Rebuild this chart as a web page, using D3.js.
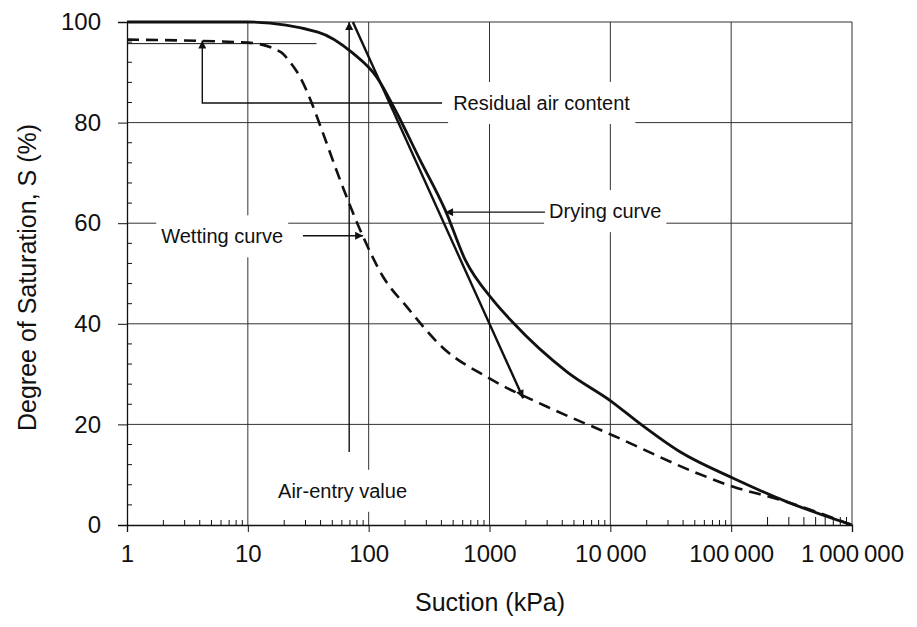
<!DOCTYPE html>
<html>
<head>
<meta charset="utf-8">
<script src="https://cdn.jsdelivr.net/npm/d3@7"></script>
<style>
  body { margin: 0; background: #fff; }
  svg text { font-family: "Liberation Sans", Arial, Helvetica, sans-serif; fill: #111; }
</style>
</head>
<body>
<svg id="chart" width="917" height="627"></svg>
<script>
// Axis ticks
const suctionTicks = [1, 10, 100, 1000, 10000, 100000, 1000000];
const suctionTickLabels = ["1", "10", "100", "1000", "10\u2009000", "100\u2009000", "1\u2009000\u2009000"];
const saturationTicks = [0, 20, 40, 60, 80, 100];

// Drying (desorption) curve: suction in kPa, degree of saturation in %
const dryingSuction    = [1, 10, 38, 74, 117, 166, 266, 430, 630, 1070, 1570, 4400, 10300, 17700, 38000, 104000, 290000, 1000000];
const dryingSaturation = [100, 100, 98, 93.8, 89, 82.5, 72.6, 62.6, 52.7, 44.7, 40.2, 30.4, 24.5, 20.1, 14.5, 9.3, 4.6, 0];

// Wetting (adsorption) curve
const wettingSuction    = [1, 10, 18.5, 22.4, 27, 33, 41, 58, 90, 132, 208, 413, 955, 3000, 10300, 52300, 104000, 255000, 1000000];
const wettingSaturation = [96.5, 95.9, 94.1, 92, 89.1, 84.5, 78.5, 68.6, 57.3, 49.3, 43.3, 35.2, 29.4, 23.5, 17.9, 10.3, 7.6, 5.0, 0];

// Construction lines
const tangentSuction = [74, 1900];
const tangentSaturation = [100, 25.2];
const airEntrySuction = 69;
const airEntrySaturation = [14.5, 100];
const residualLevel = 95.7;
const residualLevelSuction = [1, 37];

const W = 917, H = 627;
const svg = d3.select("#chart");

const x = d3.scaleLog().domain([1, 1e6]).range([127, 852]);
const y = d3.scaleLinear().domain([0, 100]).range([525, 22]);

// Arrowhead marker
const defs = svg.append("defs");
defs.append("marker")
  .attr("id", "arrow")
  .attr("viewBox", "0 0 10 10")
  .attr("refX", 10).attr("refY", 5)
  .attr("markerWidth", 11).attr("markerHeight", 8)
  .attr("markerUnits", "userSpaceOnUse")
  .attr("orient", "auto")
  .append("path").attr("d", "M0,0 L10,5 L0,10 Z").attr("fill", "#111");

// Grid
const grid = svg.append("g").attr("stroke", "#333").attr("stroke-width", 1);
grid.selectAll("line.v").data(suctionTicks.slice(1)).join("line")
  .attr("x1", d => x(d)).attr("x2", d => x(d))
  .attr("y1", y(0)).attr("y2", y(100));
grid.selectAll("line.h").data(saturationTicks.slice(1)).join("line")
  .attr("x1", x(1)).attr("x2", x(1e6))
  .attr("y1", d => y(d)).attr("y2", d => y(d));

// Annotation labels (white boxes break the grid behind them)
const labels = [
  { text: "Residual air content", s: 500, S: 83.9, anchor: "start" },
  { text: "Drying curve", s: 3110, S: 62.4, anchor: "start" },
  { text: "Wetting curve", s: 19.6, S: 57.4, anchor: "end" },
  { text: "Air-entry value", s: 17.8, S: 6.8, anchor: "start" }
];
const labelG = svg.append("g");
labels.forEach(l => {
  const t = labelG.append("text")
    .attr("x", x(l.s)).attr("y", y(l.S)).attr("dy", "0.35em")
    .attr("text-anchor", l.anchor)
    .attr("font-size", 20)
    .text(l.text);
  const b = t.node().getBBox();
  labelG.insert("rect", "text")
    .attr("x", b.x - 5).attr("y", b.y - 10)
    .attr("width", b.width + 10).attr("height", b.height + 20)
    .attr("fill", "#fff");
});

// Axes
const xAxis = d3.axisBottom(x).tickValues(suctionTicks)
  .tickFormat((d, i) => suctionTickLabels[i]).tickSize(7).tickPadding(13);
const gx = svg.append("g").attr("transform", `translate(0,${y(0)})`).call(xAxis);
gx.select(".domain").attr("stroke", "#111").attr("stroke-width", 1.3);
gx.selectAll(".tick line").attr("stroke", "#111");
gx.selectAll(".tick text").attr("font-size", 24).attr("fill", "#111");

const minorX = [];
for (let e = 0; e < 6; e++) for (let m = 2; m <= 9; m++) minorX.push(m * Math.pow(10, e));
svg.append("g").attr("stroke", "#111").attr("stroke-width", 1)
  .selectAll("line").data(minorX).join("line")
  .attr("x1", d => x(d)).attr("x2", d => x(d))
  .attr("y1", y(0)).attr("y2", d => y(0) - (d >= 1e5 ? 8 : 5));

const yAxis = d3.axisLeft(y).tickValues(saturationTicks).tickSize(9).tickPadding(17);
const gy = svg.append("g").attr("transform", `translate(${x(1)},0)`).call(yAxis);
gy.select(".domain").attr("stroke", "#111").attr("stroke-width", 1.3);
gy.selectAll(".tick line").attr("stroke", "#111");
gy.selectAll(".tick text").attr("font-size", 24).attr("fill", "#111");

const minorY = d3.range(4, 100, 4).filter(v => v % 20 !== 0);
svg.append("g").attr("stroke", "#111").attr("stroke-width", 1)
  .selectAll("line").data(minorY).join("line")
  .attr("x1", x(1)).attr("x2", x(1) + 5)
  .attr("y1", d => y(d)).attr("y2", d => y(d));

// Axis titles
svg.append("text").attr("x", 490).attr("y", 611)
  .attr("text-anchor", "middle").attr("font-size", 25).text("Suction (kPa)");
svg.append("text")
  .attr("transform", `translate(36,${(y(0) + y(100)) / 2 + 4}) rotate(-90)`)
  .attr("text-anchor", "middle").attr("font-size", 25).text("Degree of Saturation, S (%)");

// Curves
const line = d3.line().x(d => x(d[0])).y(d => y(d[1])).curve(d3.curveMonotoneX);
const dryingPts = dryingSuction.map((s, i) => [s, dryingSaturation[i]]);
const wettingPts = wettingSuction.map((s, i) => [s, wettingSaturation[i]]);

svg.append("path").datum(wettingPts).attr("d", line)
  .attr("fill", "none").attr("stroke", "#111").attr("stroke-width", 2.6)
  .attr("stroke-dasharray", "12,7");
svg.append("path").datum(dryingPts).attr("d", line)
  .attr("fill", "none").attr("stroke", "#111").attr("stroke-width", 2.8);

// Tangent through the steep part of the drying curve
svg.append("line")
  .attr("x1", x(tangentSuction[0])).attr("y1", y(tangentSaturation[0]))
  .attr("x2", x(tangentSuction[1])).attr("y2", y(tangentSaturation[1]))
  .attr("stroke", "#111").attr("stroke-width", 2.4)
  .attr("marker-end", "url(#arrow)");

// Air-entry value arrow
svg.append("line")
  .attr("x1", x(airEntrySuction)).attr("x2", x(airEntrySuction))
  .attr("y1", y(airEntrySaturation[0])).attr("y2", y(airEntrySaturation[1]))
  .attr("stroke", "#111").attr("stroke-width", 1.4)
  .attr("marker-end", "url(#arrow)");

// Residual air content: level line and leader arrow
svg.append("line")
  .attr("x1", x(residualLevelSuction[0])).attr("x2", x(residualLevelSuction[1]))
  .attr("y1", y(residualLevel)).attr("y2", y(residualLevel))
  .attr("stroke", "#111").attr("stroke-width", 1);
svg.append("path")
  .attr("d", `M${x(405)},${y(83.9)} L${x(4.2)},${y(83.9)} L${x(4.2)},${y(96.3)}`)
  .attr("fill", "none").attr("stroke", "#111").attr("stroke-width", 1.4)
  .attr("marker-end", "url(#arrow)");

// Leader arrows for the curve labels
svg.append("line")
  .attr("x1", x(2880)).attr("x2", x(429)).attr("y1", y(62.2)).attr("y2", y(62.2))
  .attr("stroke", "#111").attr("stroke-width", 1.4).attr("marker-end", "url(#arrow)");
svg.append("line")
  .attr("x1", x(28.6)).attr("x2", x(90)).attr("y1", y(57.5)).attr("y2", y(57.5))
  .attr("stroke", "#111").attr("stroke-width", 1.4).attr("marker-end", "url(#arrow)");
</script>
</body>
</html>
